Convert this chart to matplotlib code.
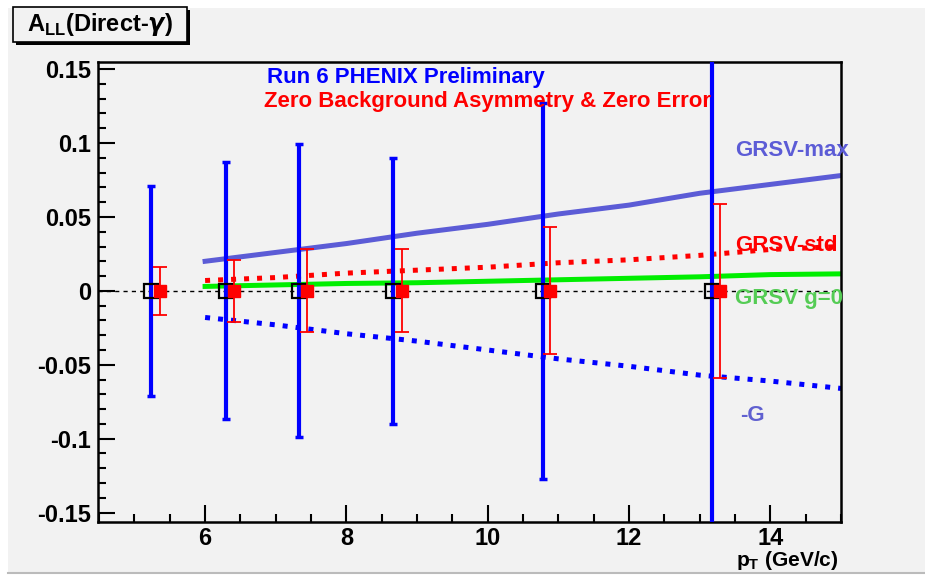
import matplotlib

matplotlib.use("Agg")
import matplotlib.pyplot as plt
from matplotlib.lines import Line2D
from matplotlib.patches import Rectangle
from matplotlib.ticker import MultipleLocator

plt.rcParams["font.family"] = ["Liberation Sans", "DejaVu Sans"]
plt.rcParams["font.weight"] = "bold"
plt.rcParams["mathtext.fontset"] = "custom"
plt.rcParams["mathtext.rm"] = "Liberation Sans:bold"
plt.rcParams["mathtext.bf"] = "Liberation Sans:bold"

BG = "#f2f2f2"

# Run 6 PHENIX preliminary points (all at A_LL = 0)
pt_run6 = [5.24, 6.29, 7.33, 8.66, 10.78, 13.17]
err_run6 = [0.071, 0.087, 0.099, 0.090, 0.127, 0.160]

# zero background asymmetry & zero error points
pt_zero = [5.36, 6.41, 7.44, 8.79, 10.88, 13.29]
err_zero = [0.016, 0.021, 0.028, 0.028, 0.043, 0.059]
all_zero = [0.0, 0.0, 0.0, 0.0, 0.0, 0.0]

# GRSV predictions
pt_theo = [6, 7, 8, 9, 10, 11, 12, 13, 14, 15]
grsv_max = [0.020, 0.026, 0.032, 0.039, 0.045, 0.052, 0.058, 0.066, 0.072, 0.078]
grsv_std = [0.007, 0.009, 0.012, 0.014, 0.016, 0.019, 0.021, 0.024, 0.028, 0.030]
grsv_g0 = [0.003, 0.004, 0.005, 0.0055, 0.0065, 0.0075, 0.0085, 0.0095, 0.011, 0.0115]
grsv_negG = [-0.018, -0.023, -0.029, -0.034, -0.040, -0.046, -0.051, -0.057, -0.061, -0.066]

fig = plt.figure(figsize=(9.25, 5.75), dpi=100, facecolor="white")
# grey canvas like the ROOT pad
fig.add_artist(Rectangle((8 / 925, 2 / 575), 1, 1 - 10 / 575, transform=fig.transFigure,
                         facecolor=BG, edgecolor="none", zorder=-10))
fig.add_artist(Line2D([8 / 925, 1], [2 / 575, 2 / 575], transform=fig.transFigure,
                      color="#bbbbbb", lw=1.5))

ax = fig.add_axes([97.7 / 925, 1 - 521.5 / 575, (841 - 97.7) / 925, (521.5 - 61.7) / 575])
ax.set_facecolor(BG)
ax.set_xlim(4.48, 15)
ax.set_ylim(-0.156, 0.155)

ax.axhline(0, color="black", ls=(0, (3, 3)), lw=1.0, zorder=1)

# theory curves
ax.plot(pt_theo, grsv_max, color="#5c5cd6", lw=3.6, zorder=2)
ax.plot(pt_theo, grsv_std, color="#ff0000", lw=3.6, ls=(0, (1.0, 1.6)), zorder=2)
ax.plot(pt_theo, grsv_g0, color="#00ee00", lw=3.6, zorder=2)
ax.plot(pt_theo, grsv_negG, color="#0000ff", lw=3.6, ls=(0, (1.0, 1.6)), zorder=2)

# data
ax.errorbar(pt_run6, all_zero, yerr=err_run6, fmt="none", ecolor="#0000ff",
            elinewidth=3.0, capsize=3, capthick=2.5, zorder=3)
ax.plot(pt_run6, all_zero, ls="none", marker="s", ms=10.5, mfc="none", mec="black",
        mew=1.6, zorder=4)
ax.errorbar(pt_zero, all_zero, yerr=err_zero, fmt="s", color="#ff0000", ms=9,
            elinewidth=1.3, capsize=5, capthick=1.3, zorder=5)

# labels
ax.text(6.87, 0.1446, "Run 6 PHENIX Preliminary", color="#0000ff", fontsize=16,
        fontweight="bold", va="center")
ax.text(6.83, 0.128, "Zero Background Asymmetry & Zero Error", color="#ff0000",
        fontsize=16, fontweight="bold", va="center")
ax.text(13.5, 0.095, "GRSV-max", color="#5c5cd6", fontsize=16, va="center")
ax.text(13.5, 0.031, "GRSV-std", color="#ff0000", fontsize=16, va="center")
ax.text(13.5, -0.005, "GRSV g=0", color="#55cc55", fontsize=16, va="center")
ax.text(13.57, -0.084, "-G", color="#6060d0", fontsize=16, va="center")

# ROOT-like axes
for s in ax.spines.values():
    s.set_linewidth(1.8)
ax.xaxis.set_major_locator(MultipleLocator(2))
ax.xaxis.set_minor_locator(MultipleLocator(0.5))
ax.yaxis.set_major_locator(MultipleLocator(0.05))
ax.yaxis.set_minor_locator(MultipleLocator(0.01))
ax.tick_params(which="both", direction="in", top=False, right=False, width=1.5)
ax.tick_params(which="major", length=12, labelsize=17, pad=5)
ax.tick_params(axis="x", which="major", pad=4)
ax.tick_params(which="minor", length=6)
ax.set_yticks([-0.15, -0.1, -0.05, 0, 0.05, 0.1, 0.15])
ax.set_yticklabels(["-0.15", "-0.1", "-0.05", "0", "0.05", "0.1", "0.15"])
for lab in ax.get_xticklabels() + ax.get_yticklabels():
    lab.set_fontweight("bold")

fig.text(838 / 925, 1 - 561 / 575, r"p$_{\mathbf{T}}$ (GeV/c)", ha="right", va="center",
         fontsize=15, fontweight="bold")

# title box with shadow
fig.add_artist(Rectangle((16 / 925, 1 - 45 / 575), 174 / 925, 35 / 575,
                         transform=fig.transFigure, facecolor="black", edgecolor="none"))
fig.add_artist(Rectangle((13 / 925, 1 - 42 / 575), 174 / 925, 35 / 575,
                         transform=fig.transFigure, facecolor=BG, edgecolor="black", lw=1.2))
fig.text(100 / 925, 1 - 25 / 575, r"A$_{\mathbf{LL}}$(Direct-$\gamma$)", ha="center",
         va="center", fontsize=17, fontweight="bold")

fig.savefig("out.png", dpi=100, facecolor="white")
